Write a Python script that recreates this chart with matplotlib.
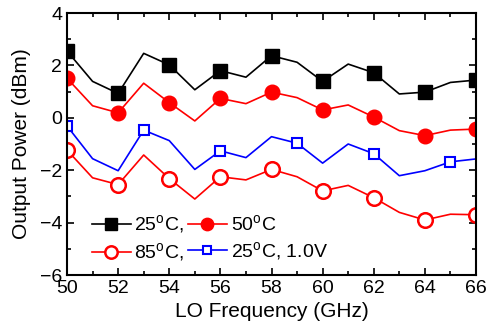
import matplotlib
matplotlib.use('Agg')
import matplotlib.pyplot as plt
import numpy as np
from matplotlib.ticker import MultipleLocator

plt.rcParams['font.family'] = ['Liberation Sans', 'DejaVu Sans']
plt.rcParams['mathtext.fontset'] = 'custom'
plt.rcParams['mathtext.rm'] = 'Liberation Sans'

freq = np.arange(50, 67)
p25 = [2.55, 1.39, 0.93, 2.46, 2.02, 1.07, 1.80, 1.55, 2.37, 2.12, 1.39, 2.05, 1.72, 0.91, 0.98, 1.35, 1.44]
p50 = [1.51, 0.46, 0.19, 1.32, 0.58, -0.12, 0.74, 0.54, 0.98, 0.77, 0.30, 0.49, 0.03, -0.49, -0.68, -0.47, -0.43]
p85 = [-1.23, -2.29, -2.55, -1.42, -2.32, -3.10, -2.25, -2.37, -1.97, -2.25, -2.79, -2.58, -3.05, -3.61, -3.90, -3.68, -3.70]
p25_1v = [-0.31, -1.56, -2.02, -0.47, -0.87, -1.97, -1.26, -1.52, -0.72, -0.97, -1.73, -1.00, -1.37, -2.21, -2.02, -1.68, -1.57]

fig = plt.figure(figsize=(4.9, 3.3), dpi=100)
ax = fig.add_axes([67/490, 1 - 275/330, (476 - 67)/490, (275 - 13)/330])

l1, = ax.plot(freq, p25, color='black', lw=1.2, marker='s', ms=9.5,
              markevery=2, label=r'25$^{\rm o}$C,')
l2, = ax.plot(freq, p50, color='red', lw=1.2, marker='o', ms=10.5,
              markevery=2, label=r'50$^{\rm o}$C')
l3, = ax.plot(freq, p85, color='red', lw=1.2, marker='o', ms=10.5, mfc='white',
              mew=1.8, markevery=2, label=r'85$^{\rm o}$C,')
l4, = ax.plot(freq, p25_1v, color='blue', lw=1.2, marker='s', ms=7.5, mfc='white',
              mew=1.5, markevery=3, label=r'25$^{\rm o}$C, 1.0V')

ax.set_xlim(50, 66)
ax.set_ylim(-6, 4)
ax.xaxis.set_major_locator(MultipleLocator(2))
ax.xaxis.set_minor_locator(MultipleLocator(1))
ax.yaxis.set_major_locator(MultipleLocator(2))
ax.yaxis.set_minor_locator(MultipleLocator(1))
ax.tick_params(which='both', direction='in', top=True, right=True, labelsize=14, width=1.2)
ax.tick_params(which='major', length=5)
ax.tick_params(which='minor', length=3)
for s in ax.spines.values():
    s.set_linewidth(1.5)

ax.set_xlabel('LO Frequency (GHz)', fontsize=15, labelpad=4)
ax.set_ylabel('Output Power (dBm)', fontsize=15, labelpad=6)

ax.legend([l1, l3, l2, l4], [l1.get_label(), l3.get_label(), l2.get_label(), l4.get_label()],
          ncol=2, frameon=False, fontsize=14, loc='lower left',
          bbox_to_anchor=(0.027, -0.01), handlelength=2.0, handletextpad=0.2,
          columnspacing=0.2, labelspacing=0.25, borderaxespad=0.3, markerscale=0.85)

plt.savefig('out.png', dpi=100)
